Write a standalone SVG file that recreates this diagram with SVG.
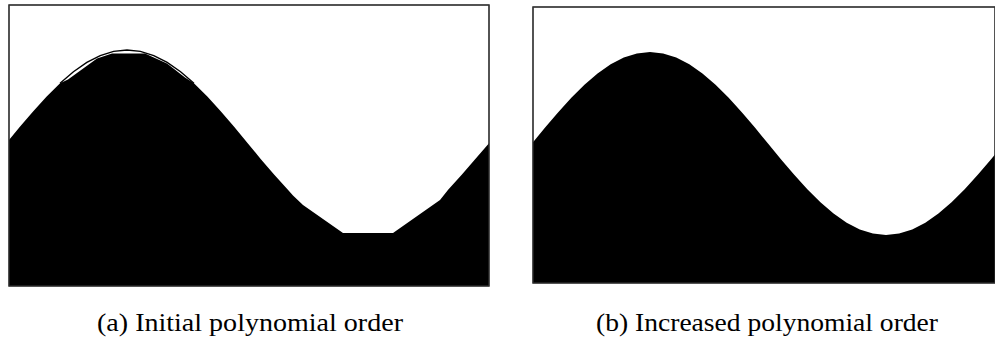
<svg xmlns="http://www.w3.org/2000/svg" width="995" height="341" viewBox="0 0 995 341">
<style>
.frame{fill:#fff;stroke:#333;stroke-width:1.2}
.fill{fill:#000;stroke:none}
.curve{fill:none;stroke:#000;stroke-width:1.4}
.cap{font-family:"Liberation Serif","DejaVu Serif",serif;font-size:25px;fill:#000}
</style>
<defs>
<clipPath id="ca"><rect x="9" y="5" width="480" height="281"/></clipPath>
<clipPath id="cb"><rect x="533" y="7" width="462" height="276"/></clipPath>
</defs>
<g id="panel-a">
<rect class="frame" x="9" y="5" width="480" height="281"/>
<g clip-path="url(#ca)">
<path class="fill" d="M6.5,143 L19.89,126.86 L33.28,111.19 L46.67,96.5 L60.06,83.22 L68,79.5 L97,58.5 L112,53.5 L145,53.5 L167,63.5 L185,77.5 L193.94,83.22 L207.33,96.5 L220.72,111.19 L234.11,126.86 L247.5,143 L260.89,159.14 L274.28,174.81 L287.67,189.5 L293,195.5 L303,205 L343,233 L393,233 L440,200 L448.33,189.5 L461.72,174.81 L475.11,159.14 L490,142 L490,287 L6.5,287 Z"/>
<path class="curve" d="M60.06,83.22 L73.44,71.76 L86.83,62.46 L100.22,55.61 L113.61,51.41 L127,50 L140.39,51.41 L153.78,55.61 L167.17,62.46 L180.56,71.76 L193.94,83.22"/>
</g>
<rect x="9" y="5" width="480" height="281" fill="none" stroke="#333" stroke-width="1.2"/>
</g>
<g id="panel-b">
<rect class="frame" x="533" y="7" width="462" height="276"/>
<g clip-path="url(#cb)">
<path class="fill" d="M532,143.5 L545.11,127.62 L558.22,112.21 L571.33,97.75 L584.44,84.68 L597.56,73.41 L610.67,64.26 L623.78,57.52 L636.89,53.39 L650,52 L663.11,53.39 L676.22,57.52 L689.33,64.26 L702.44,73.41 L715.56,84.68 L728.67,97.75 L741.78,112.21 L754.89,127.62 L768,143.5 L781.11,159.38 L794.22,174.79 L807.33,189.25 L820.44,202.32 L833.56,213.59 L846.67,222.74 L859.78,229.48 L872.89,233.61 L886,235 L899.11,233.61 L912.22,229.48 L925.33,222.74 L938.44,213.59 L951.56,202.32 L964.67,189.25 L977.78,174.79 L990.89,159.38 L1004,143.5 L1004,290 L532,290 Z"/>
</g>
<rect x="533" y="7" width="462" height="276" fill="none" stroke="#333" stroke-width="1.2"/>
</g>
<g id="captions">
<text class="cap" x="97" y="331" textLength="306" lengthAdjust="spacingAndGlyphs">(a) Initial polynomial order</text>
<text class="cap" x="596" y="331" textLength="342" lengthAdjust="spacingAndGlyphs">(b) Increased polynomial order</text>
</g>
</svg>
